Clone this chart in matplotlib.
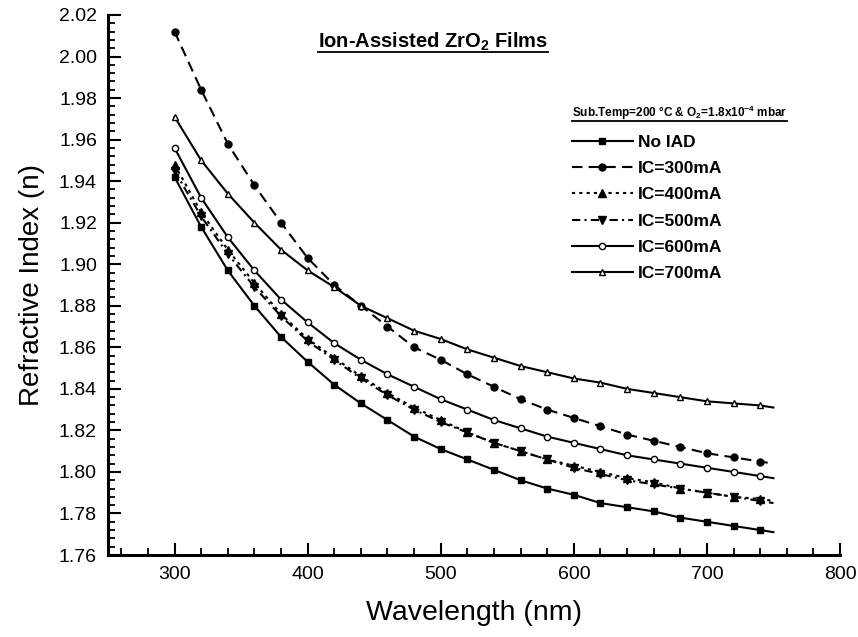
import matplotlib
matplotlib.use("Agg")
import matplotlib.pyplot as plt
from matplotlib.ticker import MultipleLocator
from matplotlib.lines import Line2D

plt.rcParams['font.family'] = ['Liberation Sans', 'DejaVu Sans']
plt.rcParams['mathtext.fontset'] = 'custom'
plt.rcParams['mathtext.rm'] = 'Liberation Sans:bold'
plt.rcParams['mathtext.it'] = 'Liberation Sans:bold'
plt.rcParams['mathtext.bf'] = 'Liberation Sans:bold'
plt.rcParams['mathtext.default'] = 'rm'

wavelength = [300, 320, 340, 360, 380, 400, 420, 440, 460, 480, 500, 520,
              540, 560, 580, 600, 620, 640, 660, 680, 700, 720, 740, 750]

n_no_iad = [1.942, 1.918, 1.897, 1.880, 1.865, 1.853, 1.842, 1.833, 1.825, 1.817, 1.811, 1.806,
            1.801, 1.796, 1.792, 1.789, 1.785, 1.783, 1.781, 1.778, 1.776, 1.774, 1.772, 1.771]
n_300 = [2.012, 1.984, 1.958, 1.938, 1.920, 1.903, 1.890, 1.880, 1.870, 1.860, 1.854, 1.847,
         1.841, 1.835, 1.830, 1.826, 1.822, 1.818, 1.815, 1.812, 1.809, 1.807, 1.805, 1.804]
n_400 = [1.948, 1.925, 1.907, 1.891, 1.876, 1.864, 1.855, 1.846, 1.838, 1.831, 1.825, 1.819,
         1.814, 1.810, 1.806, 1.803, 1.800, 1.797, 1.795, 1.792, 1.790, 1.788, 1.787, 1.786]
n_500 = [1.945, 1.923, 1.905, 1.889, 1.875, 1.863, 1.854, 1.845, 1.837, 1.830, 1.824, 1.819,
         1.814, 1.810, 1.806, 1.802, 1.799, 1.796, 1.794, 1.792, 1.790, 1.788, 1.786, 1.785]
n_600 = [1.956, 1.932, 1.913, 1.897, 1.883, 1.872, 1.862, 1.854, 1.847, 1.841, 1.835, 1.830,
         1.825, 1.821, 1.817, 1.814, 1.811, 1.808, 1.806, 1.804, 1.802, 1.800, 1.798, 1.797]
n_700 = [1.971, 1.950, 1.934, 1.920, 1.907, 1.897, 1.889, 1.880, 1.874, 1.868, 1.864, 1.859,
         1.855, 1.851, 1.848, 1.845, 1.843, 1.840, 1.838, 1.836, 1.834, 1.833, 1.832, 1.831]

labels = ["No IAD", "IC=300mA", "IC=400mA", "IC=500mA", "IC=600mA", "IC=700mA"]
series = [n_no_iad, n_300, n_400, n_500, n_600, n_700]
styles = [
    dict(ls='-', marker='s', mfc='black', ms=4.5),
    dict(ls=(0, (5, 3)), marker='o', mfc='black', ms=5),
    dict(ls=(0, (1.5, 2)), marker='^', mfc='black', ms=5.5),
    dict(ls=(0, (4, 2, 1, 2)), marker='v', mfc='black', ms=5.5),
    dict(ls='-', marker='o', mfc='white', ms=4.5),
    dict(ls='-', marker='^', mfc='white', ms=5),
]

fig = plt.figure(figsize=(8.58, 6.37), dpi=100)
ax = fig.add_axes([108/858, 82/637, 732/858, 540/637])

for y, lab, st in zip(series, labels, styles):
    ax.plot(wavelength, y, color='black', lw=1.5, mec='black', mew=1.0,
            markevery=slice(0, len(wavelength) - 1), label=lab, **st)

ax.set_xlim(250, 800)
ax.set_ylim(1.76, 2.02)
ax.xaxis.set_major_locator(MultipleLocator(100))
ax.xaxis.set_minor_locator(MultipleLocator(20))
ax.yaxis.set_major_locator(MultipleLocator(0.02))
ax.yaxis.set_minor_locator(MultipleLocator(0.004))
ax.yaxis.set_major_formatter(matplotlib.ticker.FormatStrFormatter('%.2f'))
ax.xaxis.set_major_formatter(matplotlib.ticker.FormatStrFormatter('%d'))
for s in ['top', 'right']:
    ax.spines[s].set_visible(False)
for s in ['left', 'bottom']:
    ax.spines[s].set_linewidth(2.2)
ax.tick_params(which='major', direction='in', length=9, width=1.5, labelsize=14, pad=8)
ax.tick_params(which='minor', direction='in', length=5, width=1.3)
ax.set_xlabel("Wavelength (nm)", fontsize=20.5, labelpad=12)
ax.set_ylabel("Refractive Index (n)", fontsize=20, labelpad=10)

leg = ax.legend(loc='upper left', bbox_to_anchor=(464/732, 0.835), frameon=False,
                title=r"Sub.Temp=200 °C & O$_2$=1.8x10$^{-4}$ mbar",
                title_fontproperties={'weight': 'bold', 'size': 8.5},
                prop={'weight': 'bold', 'size': 12.5}, alignment='left',
                handlelength=3.5, handletextpad=0.3, labelspacing=0.64,
                borderaxespad=0, borderpad=0)
leg._legend_box.sep = 9

title = fig.text(433/858, 1 - 42/637, r"Ion-Assisted ZrO$_2$ Films", ha='center', va='center',
                 fontsize=14.5, fontweight='bold')

fig.canvas.draw()
r = fig.canvas.get_renderer()
for t in [title, leg.get_title()]:
    bb = t.get_window_extent(r)
    yline = bb.y0 + 1
    fig.add_artist(Line2D([bb.x0 / 858, bb.x1 / 858], [yline / 637, yline / 637],
                          transform=fig.transFigure, color='black', lw=1.3))

fig.savefig("out.png", dpi=100)
